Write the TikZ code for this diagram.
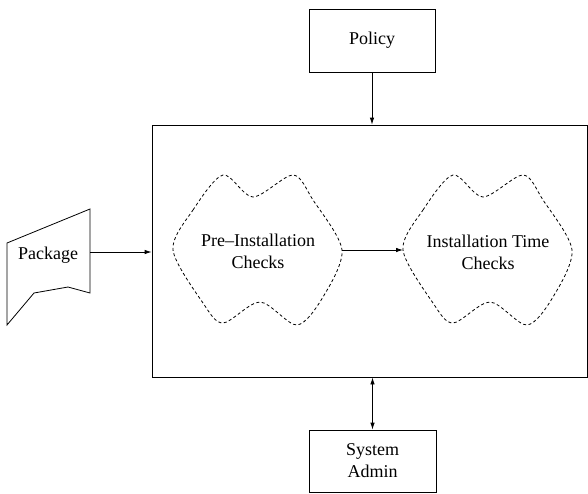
\documentclass[tikz,border=0pt]{standalone}
\usepackage{fontspec}
\setmainfont{Liberation Serif}
\usetikzlibrary{arrows.meta}
\begin{document}
\begin{tikzpicture}[x=1pt,y=-1pt,line width=0.8pt,
    font=\fontsize{18}{22}\selectfont,
    box/.style={draw,inner sep=0pt,align=center},
    cloudline/.style={dash pattern=on 3pt off 2.5pt},
    arr/.style={-{Latex[length=7pt,width=4.5pt]}},
    darr/.style={{Latex[length=7pt,width=4.5pt]}-{Latex[length=7pt,width=4.5pt]}}]
    \useasboundingbox (0,0) rectangle (588,493);

    \node [box,minimum width=126pt,minimum height=63pt] (policy) at (372,40.5) {Policy};
    \node [box,minimum width=435pt,minimum height=252pt] (frame) at (369.5,251) {};
    \node [box,minimum width=127pt,minimum height=62pt] (admin) at (372.5,461) {System\\Admin};

    % package
    \draw (7,243) -- (90,209) -- (90,293) -- (68,287) -- (34,293) -- (7,325) -- cycle;
    \node (package) at (48,255) {Package};
    \coordinate (pkgout) at (90,252);

    % the two checks
    \draw [cloudline,shift={(258,250)}] plot [smooth cycle] coordinates {(-85,0)(-65,-40)(-35,-75)(-5,-53)(35,-75)(55,-50)(84,0)(65,47)(39,75)(2,52)(-35,73)(-55,53)};
    \draw [cloudline,shift={(488,250)}] plot [smooth cycle] coordinates {(-85,0)(-65,-40)(-35,-75)(-5,-53)(35,-75)(55,-50)(84,0)(65,47)(39,75)(2,52)(-35,73)(-55,53)};
    \node [align=center] (pre) at (258,251) {Pre--Installation\\Checks};
    \node [align=center] (inst) at (488,252) {Installation Time\\Checks};
    \coordinate (preout) at (342,250);
    \coordinate (instin) at (403,250);

    \draw [arr] (policy) -- (policy |- frame.north);
    \draw [arr] (pkgout) -- (pkgout -| frame.west);
    \draw [arr] (preout) -- (instin);
    \draw [darr] (frame.south -| admin) -- (admin);
\end{tikzpicture}
\end{document}
